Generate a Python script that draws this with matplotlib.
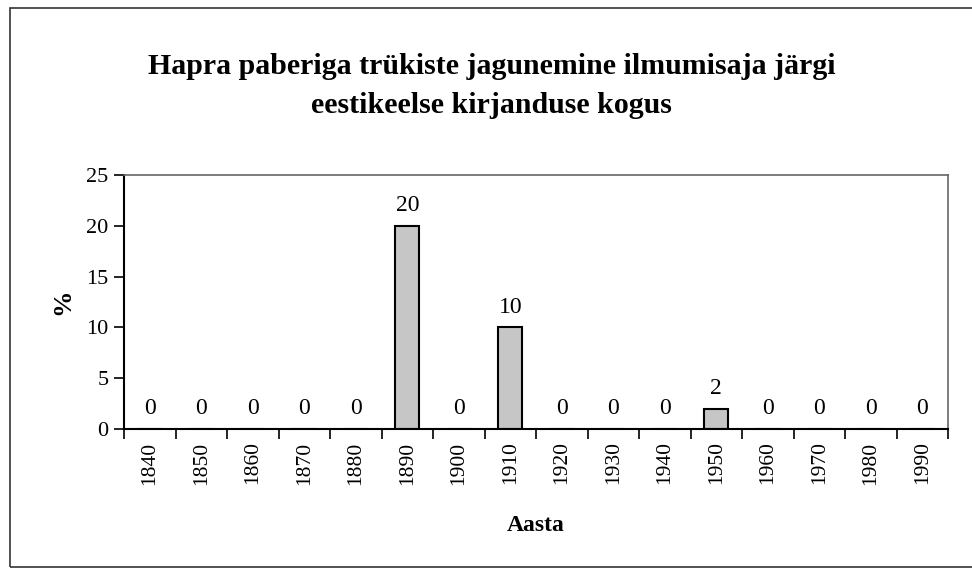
import matplotlib.pyplot as plt
from matplotlib.patches import Rectangle

aastad = ['1840', '1850', '1860', '1870', '1880', '1890', '1900', '1910',
          '1920', '1930', '1940', '1950', '1960', '1970', '1980', '1990']
protsent = [0, 0, 0, 0, 0, 20, 0, 10, 0, 0, 0, 2, 0, 0, 0, 0]

plt.rcParams['font.family'] = ['Liberation Serif', 'DejaVu Serif']

fig = plt.figure(figsize=(9.72, 5.7), dpi=100)
ax = fig.add_axes([124 / 972, 1 - 429 / 570, 824 / 972, 254 / 570])

# outer chart border (right side runs off the picture)
fig.patches.append(Rectangle((10 / 972, 1 - 567 / 570), 1.0, 559 / 570,
                             transform=fig.transFigure, fill=False,
                             edgecolor='#333333', linewidth=1.2))

x = range(len(aastad))
bars = ax.bar(x, protsent, width=0.47, color='#c6c6c6',
              edgecolor='black', linewidth=1.5)
for xi, v in zip(x, protsent):
    ax.annotate(str(v), (xi, v), xytext=(0, 7), textcoords='offset points',
                ha='center', va='bottom', fontsize=17)

ax.set_xlim(-0.5, len(aastad) - 0.5)
ax.set_ylim(0, 25)
ax.set_yticks([0, 5, 10, 15, 20, 25])
ax.set_xticks(list(x))
ax.set_xticklabels(aastad, rotation=90, fontsize=15.5)
ax.set_xticks([i - 0.5 for i in range(len(aastad) + 1)], minor=True)
ax.tick_params(axis='x', which='major', length=0, pad=9)
ax.tick_params(axis='x', which='minor', length=7, width=1.2, direction='out')
ax.tick_params(axis='y', length=7, width=1.2, direction='out', labelsize=16, pad=4)

for side in ['left', 'bottom']:
    ax.spines[side].set_linewidth(1.5)
for side in ['top', 'right']:
    ax.spines[side].set_linewidth(1.2)
    ax.spines[side].set_color('#666666')

ax.set_ylabel('%', fontsize=19, fontweight='bold', labelpad=9)
ax.set_xlabel('Aasta', fontsize=17, fontweight='bold', labelpad=22)

fig.text(0.506, 1 - 86 / 570,
         'Hapra paberiga trükiste jagunemine ilmumisaja järgi\neestikeelse kirjanduse kogus',
         ha='center', va='center', fontsize=21.5, fontweight='bold', linespacing=1.55)

fig.savefig('out.png', dpi=100, facecolor='white')
